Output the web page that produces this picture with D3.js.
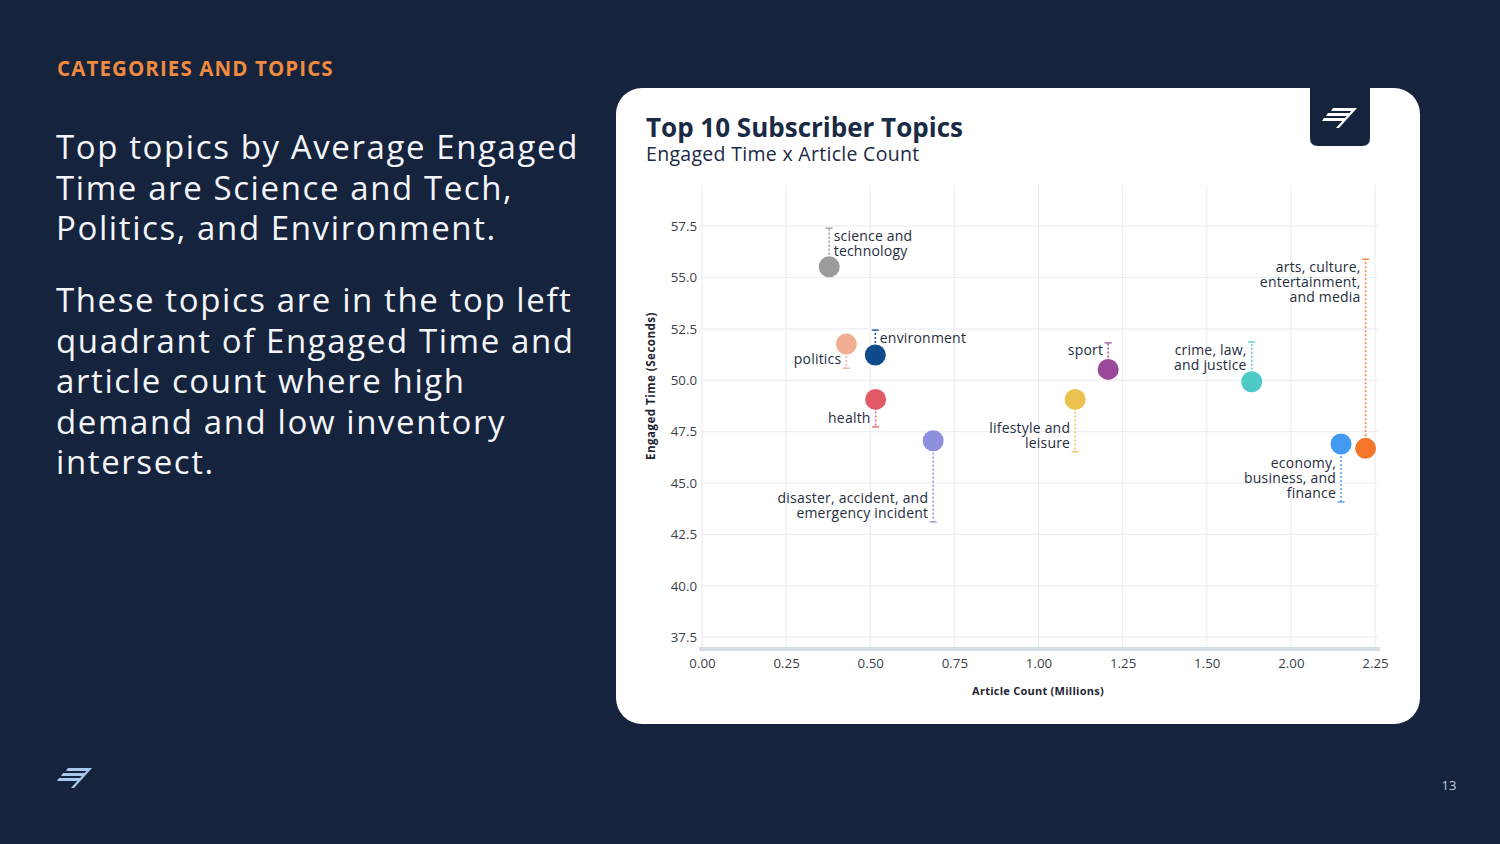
<!DOCTYPE html>
<html>
<head>
<meta charset="utf-8">
<script src="https://cdn.jsdelivr.net/npm/d3@7"></script>
<style>
  html,body{margin:0;padding:0;background:#15233d;}
  svg{display:block;}
  text{font-family:"Open Sans",Lato,sans-serif;}
</style>
</head>
<body>
<svg id="c" width="1500" height="844"></svg>
<script>
// ---------- data ----------
const topics = ["science and technology","politics","environment","health",
  "disaster, accident, and emergency incident","lifestyle and leisure","sport",
  "crime, law, and justice","economy, business, and finance","arts, culture, entertainment, and media"];
const articleCount = [0.378,0.429,0.515,0.516,0.687,1.109,1.207,1.767,2.149,2.222];
const engagedTime  = [55.52,51.76,51.23,49.07,47.06,49.07,50.53,49.93,46.90,46.69];
const whiskerEnd   = [57.40,50.59,52.44,47.73,43.11,46.52,51.82,51.86,44.08,55.89];
const pointColors  = ["#9b9b9b","#f1ad91","#0f4a8a","#e35a67","#8e90de","#ebc24f","#9a4898","#4fcac6","#429bf1","#f5772b"];
const labelLines = [["science and","technology"],["politics"],["environment"],["health"],
  ["disaster, accident, and","emergency incident"],["lifestyle and","leisure"],["sport"],
  ["crime, law,","and justice"],["economy,","business, and","finance"],
  ["arts, culture,","entertainment,","and media"]];
const labelSide = ["right","left","right","left","left","left","left","left","left","left"];
const xTickValues = [0,0.25,0.5,0.75,1.0,1.25,1.5,2.0,2.25];
const yTickValues = [37.5,40,42.5,45,47.5,50,52.5,55,57.5];

const headline = "CATEGORIES AND TOPICS";
const para1 = ["Top topics by Average Engaged","Time are Science and Tech,","Politics, and Environment."];
const para2 = ["These topics are in the top left","quadrant of Engaged Time and","article count where high","demand and low inventory","intersect."];

// ---------- page ----------
const svg = d3.select("#c");
svg.append("rect").attr("width",1500).attr("height",844).attr("fill","#15233d");

svg.append("text").attr("x",57).attr("y",76).attr("fill","#f08a3e")
  .attr("font-size",20.5).attr("font-weight",700).attr("letter-spacing",1.1).text(headline);

const p1 = svg.append("text").attr("fill","#f3f5f8").attr("font-size",33).attr("letter-spacing",1.6);
para1.forEach((l,i)=>p1.append("tspan").attr("x",56).attr("y",159+i*40.5).text(l));
const p2 = svg.append("text").attr("fill","#f3f5f8").attr("font-size",33).attr("letter-spacing",1.6);
para2.forEach((l,i)=>p2.append("tspan").attr("x",56).attr("y",312+i*40.5).text(l));

svg.append("text").attr("x",1449).attr("y",790).attr("text-anchor","middle")
  .attr("fill","#c3cfdd").attr("font-size",13).text("13");

function logo(g, color){
  const polys = [
    [[11,2],[34,2],[32,5],[9,5]],
    [[6,7],[29,7],[27,10],[4,10]],
    [[2,12],[24,12],[22,15],[0,15]],
    [[32,2],[35,2],[17,22],[14,22]]
  ];
  polys.forEach(p=>g.append("polygon").attr("points",p.map(d=>d.join(",")).join(" ")).attr("fill",color));
}
logo(svg.append("g").attr("transform","translate(57,766)"), "#a9c9ec");

// ---------- card ----------
svg.append("rect").attr("x",616).attr("y",88).attr("width",804).attr("height",636)
  .attr("rx",26).attr("fill","#ffffff");
svg.append("path").attr("d","M1310,88 H1370 V138 Q1370,146 1362,146 H1318 Q1310,146 1310,138 Z")
  .attr("fill","#15233d");
logo(svg.append("g").attr("transform","translate(1322,106)"), "#ffffff");

svg.append("text").attr("x",646).attr("y",137).attr("fill","#1b2a45")
  .attr("font-size",26).attr("font-weight",700).text("Top 10 Subscriber Topics");
svg.append("text").attr("x",646).attr("y",161).attr("fill","#1b2a45")
  .attr("font-size",19.5).attr("font-weight",500).attr("letter-spacing",0.3).text("Engaged Time x Article Count");

// ---------- scales ----------
const x = d3.scaleLinear().domain([0,1.5,2.0,2.25]).range([702,1206.75,1290.9,1375]);
const y = d3.scaleLinear().domain([37,59.5]).range([647.5,185]);

// grid
const grid = svg.append("g");
grid.selectAll("line.v").data(xTickValues).join("line")
  .attr("x1",d=>x(d)).attr("x2",d=>x(d)).attr("y1",185).attr("y2",648)
  .attr("stroke","#eceef3").attr("stroke-width",1.2);
grid.selectAll("line.h").data(yTickValues).join("line")
  .attr("x1",700).attr("x2",1378).attr("y1",d=>y(d)).attr("y2",d=>y(d))
  .attr("stroke","#eceef3").attr("stroke-width",1.2);
svg.append("line").attr("x1",699).attr("x2",1380).attr("y1",649).attr("y2",649)
  .attr("stroke","#d5dee7").attr("stroke-width",4);

// axes
const xAxis = svg.append("g").attr("transform","translate(0,656)")
  .call(d3.axisBottom(x).tickValues(xTickValues).tickFormat(d3.format(".2f")).tickSize(0));
xAxis.select(".domain").remove();
xAxis.selectAll("text").attr("font-size",13.3).attr("fill","#3a3f4b").attr("font-family","Open Sans");

const yAxis = svg.append("g").attr("transform","translate(697,0)")
  .call(d3.axisLeft(y).tickValues(yTickValues).tickFormat(d3.format(".1f")).tickSize(0).tickPadding(0));
yAxis.select(".domain").remove();
yAxis.selectAll("text").attr("font-size",13.3).attr("fill","#3a3f4b").attr("font-family","Open Sans");

svg.append("text").attr("x",1038).attr("y",695).attr("text-anchor","middle")
  .attr("font-size",11).attr("font-weight",700).attr("letter-spacing",0.25).attr("fill","#1f2533").text("Article Count (Millions)");
svg.append("text").attr("transform","translate(655,386) rotate(-90)").attr("text-anchor","middle")
  .attr("font-size",11.5).attr("font-weight",700).attr("letter-spacing",0.5).attr("fill","#1f2533").text("Engaged Time (Seconds)");

// ---------- marks ----------
const idx = d3.range(topics.length);
const g = svg.append("g");
g.selectAll("line.wh").data(idx).join("line")
  .attr("x1",i=>x(articleCount[i])).attr("x2",i=>x(articleCount[i]))
  .attr("y1",i=>y(engagedTime[i])).attr("y2",i=>y(whiskerEnd[i]))
  .attr("stroke",i=>pointColors[i]).attr("stroke-width",1.6).attr("stroke-dasharray","2,2").attr("opacity",0.9);
g.selectAll("line.cap").data(idx).join("line")
  .attr("x1",i=>x(articleCount[i])-3.5).attr("x2",i=>x(articleCount[i])+3.5)
  .attr("y1",i=>y(whiskerEnd[i])).attr("y2",i=>y(whiskerEnd[i]))
  .attr("stroke",i=>pointColors[i]).attr("stroke-width",1.4).attr("opacity",0.9);
g.selectAll("circle").data(idx).join("circle")
  .attr("cx",i=>x(articleCount[i])).attr("cy",i=>y(engagedTime[i])).attr("r",10.5)
  .attr("fill",i=>pointColors[i]);

idx.forEach(i=>{
  const cx = x(articleCount[i]);
  const ey = y(whiskerEnd[i]);
  const up = whiskerEnd[i] > engagedTime[i];
  const lines = labelLines[i];
  const right = labelSide[i]==="right";
  const t = g.append("text").attr("font-size",14).attr("font-weight",500).attr("letter-spacing",0.2).attr("fill","#262d3d")
    .attr("text-anchor", right ? "start" : "end");
  const first = up ? ey + 12.5 : ey - 4 - (lines.length-1)*15;
  lines.forEach((l,k)=>t.append("tspan").attr("x", right ? cx+4.5 : cx-5).attr("y", first + k*15).text(l));
});
</script>
</body>
</html>
